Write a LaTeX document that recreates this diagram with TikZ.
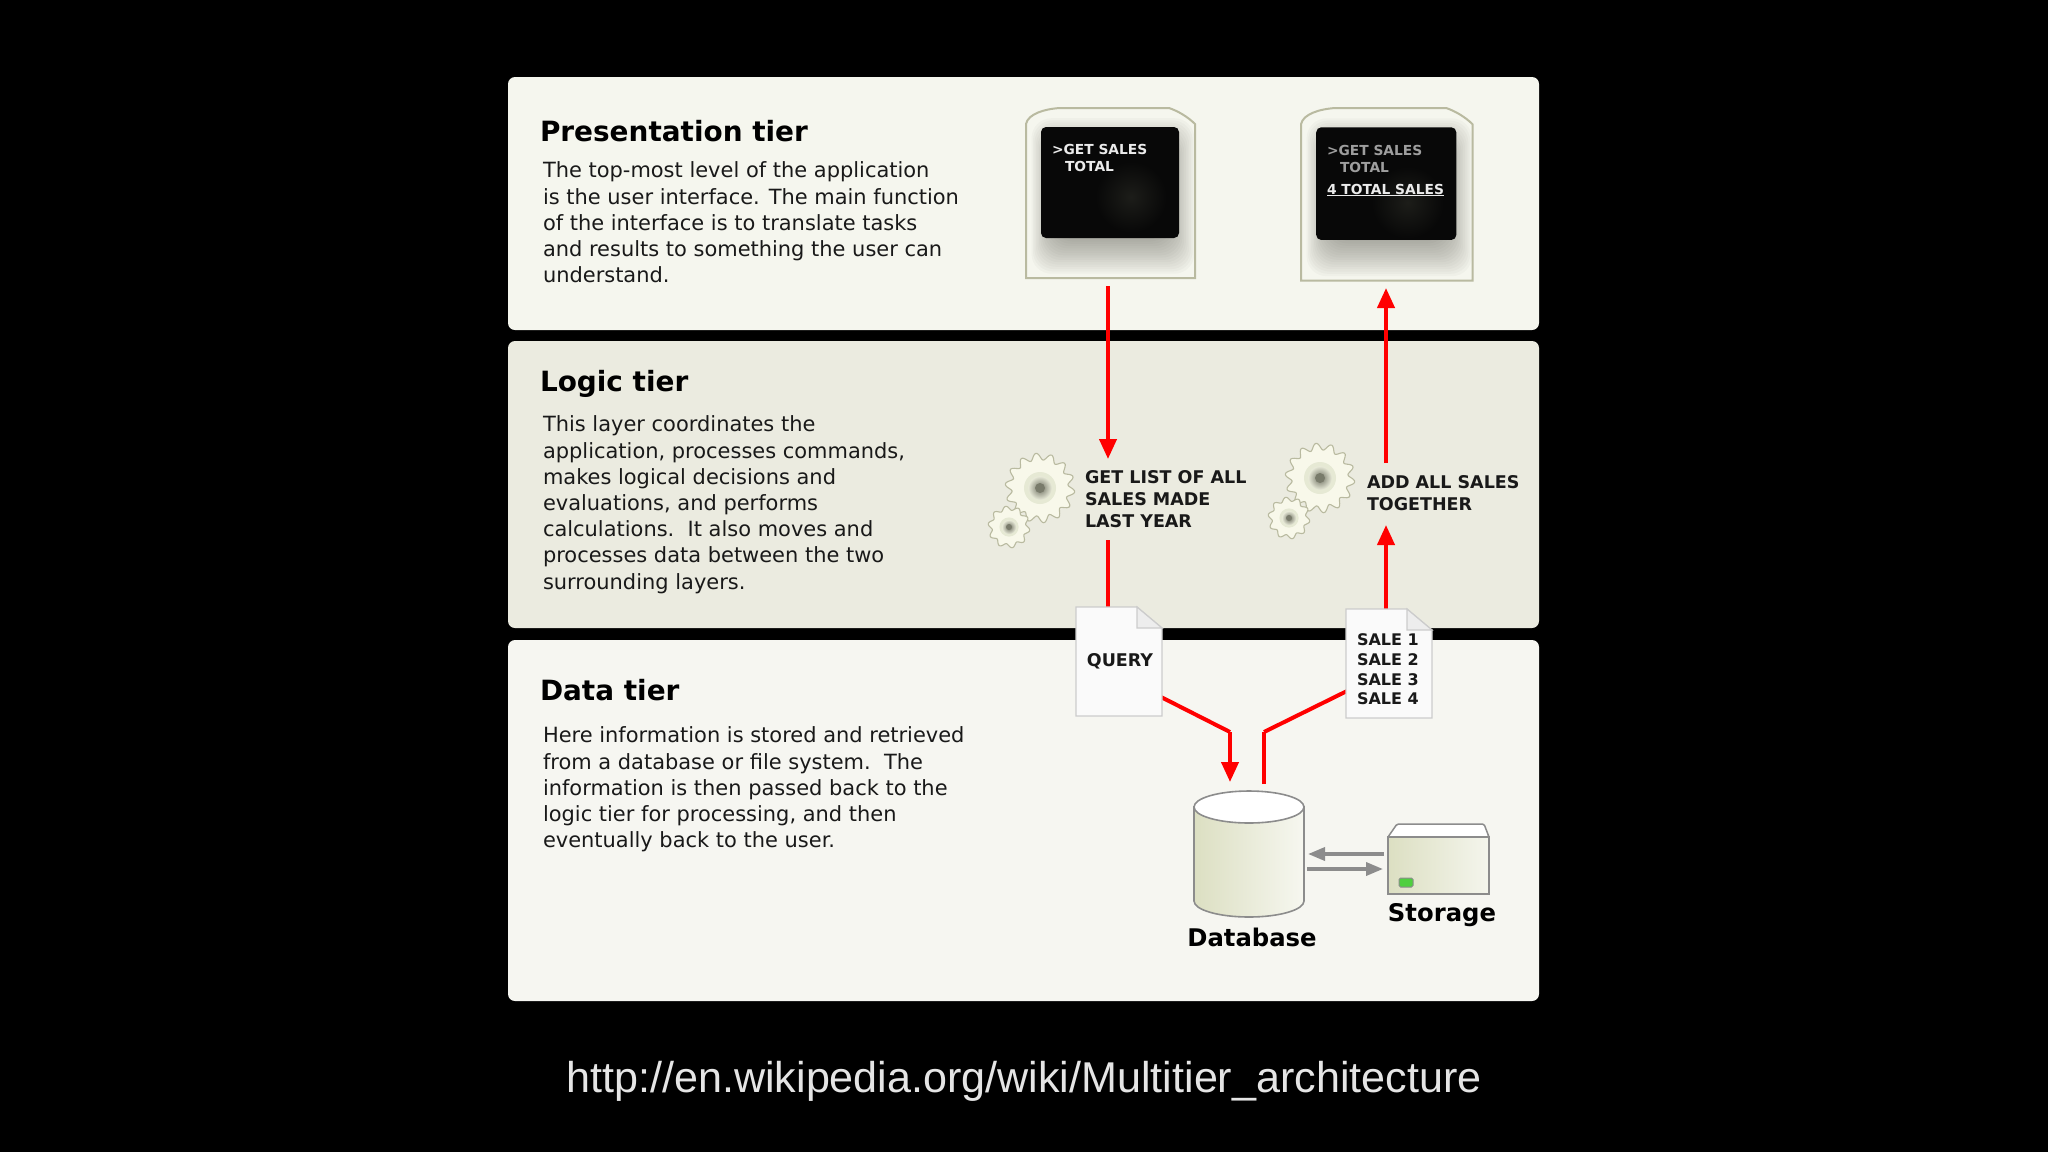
\documentclass[tikz,border=0pt]{standalone}
\usepackage{fontspec}
\setmainfont{DejaVu Sans}
\newfontfamily\urlfont{Liberation Sans}
\usetikzlibrary{arrows.meta}
\definecolor{tiertop}{HTML}{F5F6EE}
\definecolor{tiermid}{HTML}{EBEBE0}
\definecolor{tierlow}{HTML}{F6F6F1}
\definecolor{rimcol}{HTML}{B9BAA0}
\definecolor{gearcol}{HTML}{F8F8EA}
\definecolor{olivecol}{HTML}{DCDFC2}
\definecolor{ledcol}{HTML}{4FCF3F}
\tikzset{
  every node/.style={inner sep=0pt, outer sep=0pt},
  tierhead/.style={anchor=west, font=\fontsize{27.9}{30}\bfseries\selectfont, text=black},
  tierbody/.style={anchor=north west, align=left, font=\fontsize{20.95}{26.2}\selectfont, text=black!90},
  capslabel/.style={anchor=north west, align=left, font=\fontsize{17.5}{21.8}\bfseries\selectfont, text=black!90},
  screentext/.style={anchor=west, font=\fontsize{13.8}{18}\bfseries\selectfont, text=white!92!black},
  redline/.style={draw=red, line width=4pt},
  redarrow/.style={redline, -{Triangle[length=20pt,width=17pt]}},
  greyarrow/.style={draw=black!45, line width=3.5pt, -{Triangle[length=17pt,width=13pt]}},
  pics/gearwheel/.style={code={
    \draw[draw=rimcol, fill=gearcol, line width=1.1pt] plot[domain=0:360, samples=160, smooth cycle] ({(31.5+3.4*sin(#1*\x))*cos(\x)}, {(31.5+3.4*sin(#1*\x))*sin(\x)});
    \fill[fill=olivecol!70!white] (0,0) circle (16);
    \shade[inner color=black!50!olivecol, outer color=olivecol!60!white] (0,0) circle (12);
    \fill[fill=black!45!olivecol] (0,0) circle (5);
  }},
  pics/monitor/.style={code={
    \begin{scope}
      \clip (0,16) .. controls (2,6) and (18,1) .. (34,0) -- (143,0) .. controls (152,3) and (162,9) .. (169,16) -- (169,170) -- (0,170) -- cycle;
      \foreach \g in {0,...,19}
        \fill[fill=black!60!rimcol, opacity=0.03, rounded corners=20] (34-1.5*\g,52-2.2*\g) rectangle (136+1.7*\g,122+2.3*\g);
    \end{scope}
    \draw[draw=rimcol, line width=2pt] (0,16) .. controls (2,6) and (18,1) .. (34,0) -- (143,0) .. controls (152,3) and (162,9) .. (169,16) -- (169,170) -- (0,170) -- cycle;
    \fill[fill=black!97, rounded corners=5] (15,19) rectangle (153,130);
    \begin{scope}
      \clip (15,19) rectangle (153,130);
      \shade[inner color=black!87!olivecol, outer color=black!97] (105,#1) circle (36);
    \end{scope}
  }},
  pics/document/.style={code={
    \draw[draw=black!20, fill=white!98!black, line width=1.2pt] (0,0) -- (61,0) -- (86,21) -- (86,109) -- (0,109) -- cycle;
    \draw[draw=black!20, fill=black!7, line width=1.2pt] (61,0) -- (61,21) -- (86,21) -- cycle;
  }}
}
\begin{document}
\begin{tikzpicture}[x=1pt, y=-1pt]
  \fill[black] (0,0) rectangle (2048,1152);
  \useasboundingbox (0,0) rectangle (2048,1152);
  % tiers
  \fill[tiertop, rounded corners=7] (508,77) rectangle (1539,330);
  \fill[tiermid, rounded corners=7] (508,341) rectangle (1539,628);
  \fill[tierlow, rounded corners=7] (508,640) rectangle (1539,1001);
  \node (presenthead) at (540,131) [tierhead] {Presentation tier};
  \node (logichead) at (540,384) [tierhead] {Logic tier};
  \node (datahead) at (540,690) [tierhead] {Data tier};
  \node (presentbody) at (543,162) [tierbody] {The top-most level of the application\\is the user interface. The main function\\of the interface is to translate tasks\\and results to something the user can\\understand.};
  \node (logicbody) at (543,416) [tierbody] {This layer coordinates the\\application, processes commands,\\makes logical decisions and\\evaluations, and performs\\calculations.\ \ It also moves and\\processes data between the two\\surrounding layers.};
  \node (databody) at (543,727) [tierbody] {Here information is stored and retrieved\\from a database or file system.\ \ The\\information is then passed back to the\\logic tier for processing, and then\\eventually back to the user.};
  % monitors
  \pic at (1026,108) {monitor=89};
  \pic[scale=1.015] at (1301,108) {monitor=93};
  \node (ask1) at (1052,149) [screentext] {>GET SALES};
  \node (ask2) at (1065,166) [screentext] {TOTAL};
  \node (ask3) at (1327,150) [screentext, text=black!38] {>GET SALES};
  \node (ask4) at (1340,167) [screentext, text=black!38] {TOTAL};
  \node (total) at (1327,190) [screentext] {\underline{4 TOTAL SALES}};
  % gears
  \pic at (1040,488) {gearwheel=14};
  \pic[scale=0.6] at (1009,527) {gearwheel=10};
  \pic at (1320,478) {gearwheel=14};
  \pic[scale=0.6] at (1289,518) {gearwheel=10};
  \node (getlist) at (1085,471) [capslabel] {GET LIST OF ALL\\SALES MADE\\LAST YEAR};
  \node (addall) at (1367,476) [capslabel] {ADD ALL SALES\\TOGETHER};
  % connector ends
  \coordinate (mon1out) at (1108,286);
  \coordinate (gear1in) at (1108,459);
  \coordinate (gear1out) at (1108,540);
  \coordinate (query1in) at (1108,608);
  \coordinate (query1out) at (1161,697);
  \coordinate (dbin1) at (1230,732);
  \coordinate (dbin2) at (1230,782);
  \coordinate (dbout1) at (1264,784);
  \coordinate (dbout2) at (1264,732);
  \coordinate (sale1in) at (1347,691);
  \coordinate (sale1out) at (1386,610);
  \coordinate (gear2in) at (1386,525);
  \coordinate (gear2out) at (1386,463);
  \coordinate (mon2in) at (1386,288);
  \foreach \source/\dest in {mon1out/gear1in, sale1out/gear2in, gear2out/mon2in, dbin1/dbin2}
    \path (\source) edge[redarrow] (\dest);
  \foreach \source/\dest in {gear1out/query1in, query1out/dbin1, dbout1/dbout2, dbout2/sale1in}
    \path (\source) edge[redline] (\dest);
  % documents
  \pic at (1076,607) {document};
  \pic at (1346,609) {document};
  \node (query) at (1120,661) [font=\fontsize{17.5}{22}\bfseries\selectfont, text=black!90] {QUERY};
  \node (sales) at (1357,634) [capslabel, font=\fontsize{16}{19.7}\bfseries\selectfont] {SALE 1\\SALE 2\\SALE 3\\SALE 4};
  % database
  \path[draw=black!45, line width=1.6pt, left color=olivecol, middle color=olivecol!60!white, right color=olivecol!25!white] (1194,807) -- (1194,901) arc[start angle=180, end angle=360, x radius=55, y radius=-16] -- (1304,807) -- cycle;
  \draw[draw=black!45, fill=white, line width=1.6pt] (1249,807) ellipse (55 and 16);
  \node (database) at (1252,937) [font=\fontsize{24.3}{28}\bfseries\selectfont, text=black] {Database};
  % storage
  \draw[draw=black!45, fill=white, line width=1.5pt, rounded corners=1.5] (1388,837) -- (1397,824) -- (1484,824) -- (1489,837) -- cycle;
  \path[draw=black!45, line width=1.5pt, left color=olivecol, middle color=olivecol!75!white, right color=olivecol!30!white] (1388,837) rectangle (1489,894);
  \draw[draw=black!45, fill=ledcol, line width=1pt, rounded corners=1.5] (1399,878) rectangle (1413,887);
  \node (storage) at (1442,915) [font=\fontsize{24.3}{28}\bfseries\selectfont, text=black] {Storage};
  \coordinate (storeout) at (1384,854);
  \coordinate (dbback) at (1308,854);
  \coordinate (dbsend) at (1307,869);
  \coordinate (storein) at (1383,869);
  \foreach \source/\dest in {storeout/dbback, dbsend/storein}
    \path (\source) edge[greyarrow] (\dest);
  \node (urltext) at (1024,1081) [font=\fontsize{43.1}{46}\urlfont\selectfont, text=black!10] {http://en.wikipedia.org/wiki/Multitier\_architecture};
\end{tikzpicture}
\end{document}
